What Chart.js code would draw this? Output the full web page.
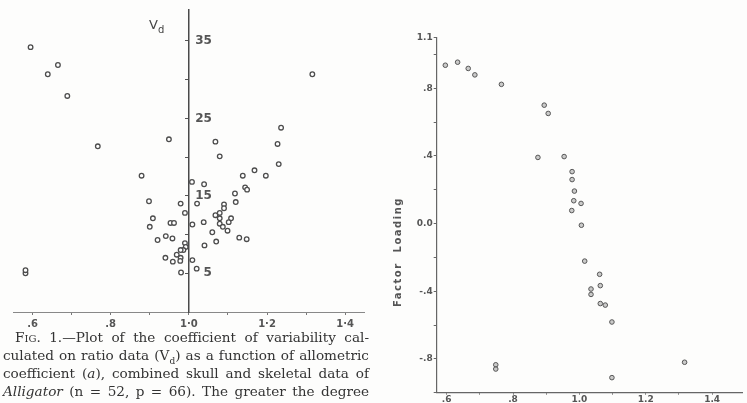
<!DOCTYPE html>
<html>
<head>
<meta charset="utf-8">
<script src="https://cdn.jsdelivr.net/npm/chart.js@4.4.0/dist/chart.umd.min.js"></script>
<style>
  body { margin: 0; background: #fdfdfc; width: 747px; height: 403px; overflow: hidden; position: relative; }
  #left { position: absolute; left: 0; top: 0; }
  #right { position: absolute; left: 370px; top: 0; }
  .cap { position: absolute; left: 3px; width: 366px; font: 13.6px "DejaVu Serif"; line-height: 18px; color: #333;
         white-space: nowrap; text-align: justify; text-align-last: justify; }
  .sc { font-variant: small-caps; }
  #vd { position: absolute; left: 149px; top: 17px; font: 13px "DejaVu Sans"; color: #444; }
</style>
</head>
<body>
<canvas id="left" width="370" height="331"></canvas>
<canvas id="right" width="377" height="403"></canvas>
<div id="vd">V<sub style="font-size:10px">d</sub></div>
<div class="cap" style="top:328px;left:15px;width:354px">F<span class="sc">ig</span>. 1.—Plot of the coefficient of variability cal-</div>
<div class="cap" style="top:346px">culated on ratio data (V<sub style="font-size:9px">d</sub>) as a function of allometric</div>
<div class="cap" style="top:364px">coefficient (<i>a</i>), combined skull and skeletal data of</div>
<div class="cap" style="top:382px"><i>Alligator</i> (n = 52, p = 66). The greater the degree</div>
<script>
// left panel: allometric coefficient vs Vd
const leftA = [0.595, 0.639, 0.665, 0.689, 0.767, 0.949, 1.068, 1.079, 1.316, 1.236, 1.227, 1.230,
  0.879, 1.168, 1.138, 1.197, 1.008, 1.039, 1.144, 1.149, 1.118, 1.120, 0.898, 0.979, 1.021,
  1.090, 1.090, 0.990, 1.079, 1.068, 1.079, 1.108, 1.102, 0.908, 0.953, 0.962, 1.079, 0.900,
  1.009, 1.038, 1.087, 1.099, 1.060, 0.920, 0.941, 0.958, 1.129, 1.148, 1.070, 0.990, 0.992,
  1.040, 0.986, 0.979, 0.969, 0.979, 0.978, 0.940, 0.959, 1.009, 1.020, 0.980, 0.582, 0.582];
const leftV = [34.2, 30.7, 31.9, 27.9, 21.4, 22.3, 22.0, 20.1, 30.7, 23.8, 21.7, 19.1,
  17.6, 18.3, 17.6, 17.6, 16.8, 16.5, 16.1, 15.8, 15.3, 14.2, 14.3, 14.0, 14.0,
  13.9, 13.4, 12.8, 12.8, 12.5, 12.1, 12.1, 11.6, 12.1, 11.5, 11.5, 11.4, 11.0,
  11.3, 11.6, 11.0, 10.5, 10.3, 9.3, 9.8, 9.5, 9.6, 9.4, 9.1, 8.9, 8.4,
  8.6, 8.0, 8.0, 7.4, 7.0, 6.6, 7.0, 6.5, 6.7, 5.6, 5.1, 5.0, 5.4];
const leftXTickVals = [0.6, 0.7, 0.8, 0.9, 1.0, 1.1, 1.2, 1.3, 1.4];
const leftXTickText = ['.6', '', '.8', '', '1·0', '', '1·2', '', '1·4'];
const leftYTickVals = [5, 10, 15, 20, 25, 30, 35];
const leftYLabelVals = [5, 15, 25, 35];

// right panel: allometric coefficient vs factor loading
const rightA = [0.596, 0.633, 0.665, 0.685, 0.765, 0.894, 0.906, 0.875, 0.954, 0.978, 0.978,
  0.985, 0.983, 1.005, 0.977, 1.006, 1.016, 1.061, 1.063, 1.035, 1.035, 1.063, 1.078, 1.098,
  0.748, 0.748, 1.317, 1.098];
const rightLoad = [0.936, 0.954, 0.917, 0.879, 0.823, 0.700, 0.651, 0.391, 0.396, 0.307, 0.260,
  0.192, 0.135, 0.119, 0.077, -0.010, -0.222, -0.300, -0.367, -0.387, -0.419, -0.473, -0.482, -0.582,
  -0.835, -0.860, -0.820, -0.911];
const rightXTickVals = [0.6, 0.7, 0.8, 0.9, 1.0, 1.1, 1.2, 1.3, 1.4];
const rightXTickText = ['.6', '', '.8', '', '1.0', '', '1.2', '', '1.4'];
const rightYTickVals = [-1.0, -0.8, -0.6, -0.4, -0.2, 0.0, 0.2, 0.4, 0.6, 0.8, 1.0, 1.1];
const rightYTickText = ['', '-.8', '', '-.4', '', '0.0', '', '.4', '', '.8', '', '1.1'];

const ink = '#4a4a4a';

new Chart(document.getElementById('left'), {
  type: 'scatter',
  data: {
    datasets: [{
      data: leftA.map((a, i) => ({ x: a, y: leftV[i] })),
      pointRadius: 2.3,
      pointBorderWidth: 1.3,
      pointBorderColor: '#4d4d4d',
      pointBackgroundColor: '#fff'
    }]
  },
  options: {
    responsive: false,
    animation: false,
    plugins: { legend: { display: false }, tooltip: { enabled: false } },
    layout: { padding: { left: 13, right: 5, top: 10, bottom: 0 } },
    scales: {
      x: {
        type: 'linear', position: 'bottom', min: 0.55, max: 1.45,
        afterBuildTicks: s => { s.ticks = leftXTickVals.map(v => ({ value: v })); },
        afterFit: s => { s.height = 19; },
        grid: { drawOnChartArea: false, tickLength: 3, color: '#777' },
        border: { color: '#888', width: 1 },
        ticks: {
          autoSkip: false, maxRotation: 0, padding: 3, color: '#555',
          font: { family: 'DejaVu Sans', size: 10, weight: 'bold' },
          callback: (v, i) => leftXTickText[i]
        }
      },
      y: {
        type: 'linear', position: { x: 1.0 }, min: 0, max: 39,
        afterBuildTicks: s => { s.ticks = leftYTickVals.map(v => ({ value: v })); },
        grid: { drawOnChartArea: false, tickLength: 3, color: '#555' },
        border: { color: ink, width: 1.5 },
        ticks: { display: false }
      }
    }
  },
  plugins: [{
    id: 'ylabels',
    afterDraw(c) {
      const ctx = c.ctx, xs = c.scales.x, ys = c.scales.y;
      const x0 = xs.getPixelForValue(1.0);
      ctx.save();
      ctx.font = 'bold 12px "DejaVu Sans"';
      ctx.fillStyle = '#555';
      ctx.textAlign = 'right';
      ctx.textBaseline = 'middle';
      leftYLabelVals.forEach(v => ctx.fillText(String(v), x0 + 23, ys.getPixelForValue(v)));
      ctx.restore();
    }
  }]
});

new Chart(document.getElementById('right'), {
  type: 'scatter',
  data: {
    datasets: [{
      data: rightA.map((a, i) => ({ x: a, y: rightLoad[i] })),
      pointRadius: 2.3,
      pointBorderWidth: 1,
      pointBorderColor: '#555',
      pointBackgroundColor: 'rgba(140,140,140,0.45)'
    }]
  },
  options: {
    responsive: false,
    animation: false,
    plugins: { legend: { display: false }, tooltip: { enabled: false } },
    layout: { padding: { left: 36.7, right: 0, top: 37.5, bottom: 0 } },
    scales: {
      x: {
        type: 'linear', position: 'bottom', min: 0.57, max: 1.49,
        afterBuildTicks: s => { s.ticks = rightXTickVals.map(v => ({ value: v })); },
        afterFit: s => { s.height = 10.3; },
        grid: { drawOnChartArea: false, tickLength: 2, color: '#777' },
        border: { color: '#666', width: 1.2 },
        ticks: {
          autoSkip: false, maxRotation: 0, padding: 0, color: '#555',
          font: { family: 'DejaVu Sans', size: 9, weight: 'bold' },
          callback: (v, i) => rightXTickText[i]
        }
      },
      y: {
        type: 'linear', position: 'left', min: -1.0, max: 1.1,
        afterBuildTicks: s => { s.ticks = rightYTickVals.map(v => ({ value: v })); },
        afterFit: s => { s.width = 30; },
        grid: { drawOnChartArea: false, tickLength: 3, color: '#666' },
        border: { color: '#666', width: 1.2 },
        ticks: {
          autoSkip: false, padding: 1, color: '#555',
          font: { family: 'DejaVu Sans', size: 9, weight: 'bold' },
          callback: (v, i) => rightYTickText[i]
        }
      }
    }
  },
  plugins: [{
    id: 'ytitle',
    afterDraw(c) {
      const ctx = c.ctx;
      ctx.save();
      ctx.translate(28, 252);
      ctx.rotate(-Math.PI / 2);
      ctx.font = 'bold 10px "DejaVu Sans"';
      ctx.letterSpacing = '1.5px';
      ctx.fillStyle = '#555';
      ctx.textAlign = 'center';
      ctx.textBaseline = 'middle';
      ctx.fillText('Factor  Loading', 0, 0);
      ctx.restore();
    }
  }]
});
</script>
</body>
</html>
